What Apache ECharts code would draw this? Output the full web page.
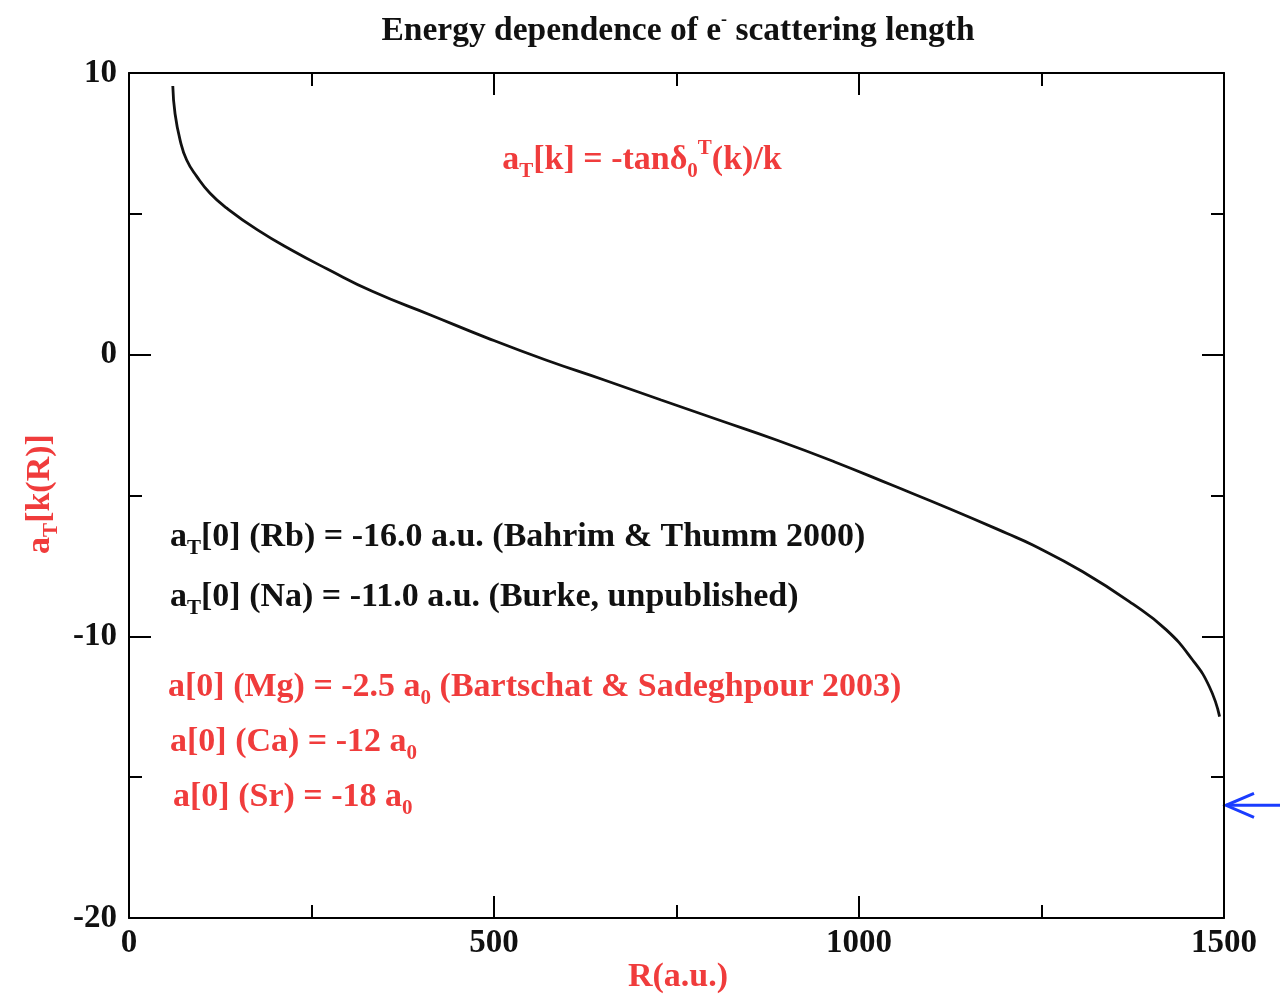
<!DOCTYPE html>
<html><head><meta charset="utf-8">
<script src="https://cdn.jsdelivr.net/npm/echarts@6/dist/echarts.min.js"></script>
<style>html,body{margin:0;padding:0;background:#fff}#c{width:1280px;height:996px}</style>
</head><body><div id="c"></div>
<script>
// Data
const R = [60, 63, 70, 79, 93, 111, 134, 176, 225, 271, 334, 413, 492, 571, 651, 729, 808, 887, 966, 1045, 1124, 1203, 1238, 1306, 1375, 1421, 1457, 1480, 1494];
const aT = [9.54, 8.57, 7.62, 6.91, 6.32, 5.73, 5.20, 4.43, 3.68, 3.05, 2.24, 1.41, 0.58, -0.19, -0.90, -1.61, -2.32, -3.03, -3.80, -4.63, -5.47, -6.35, -6.76, -7.70, -8.85, -9.77, -10.84, -11.79, -12.85];
const xTicks = [0, 500, 1000, 1500];
const yTicks = [-20, -10, 0, 10];
const arrowValue = [1500, -16];

const RED = '#f03c3c';
const BLACK = '#111';
const FONT = '"Liberation Serif","DejaVu Serif",serif';
const FS = 34;
const chart = echarts.init(document.getElementById('c'));

function axisCommon(labels) {
  return {
    axisLine: {show: true, onZero: false, lineStyle: {color: '#000', width: 2}},
    axisTick: {show: true, inside: true, length: 22, lineStyle: {color: '#000', width: 2}},
    minorTick: {show: true, splitNumber: 2, length: 13, lineStyle: {color: '#000', width: 2}},
    splitLine: {show: false},
    axisLabel: labels ? {show: true, fontFamily: FONT, fontWeight: 'bold', fontSize: 33, color: BLACK, formatter: v => String(v)} : {show: false}
  };
}

function richFor(c, fs) {
  const sfs = Math.round(fs * 0.62);
  return {
    b: {fontSize: fs, fontFamily: FONT, fontWeight: 'bold', fill: c, verticalAlign: 'middle', lineHeight: 44},
    s: {fontSize: sfs, fontFamily: FONT, fontWeight: 'bold', fill: c, verticalAlign: 'bottom', lineHeight: 44},
    p: {fontSize: sfs, fontFamily: FONT, fontWeight: 'bold', fill: c, verticalAlign: 'top', lineHeight: 44}
  };
}

chart.setOption({
  animation: false,
  backgroundColor: '#fff',
  grid: {left: 129, right: 56, top: 73, bottom: 78},
  xAxis: [
    Object.assign({type: 'value', min: xTicks[0], max: xTicks[xTicks.length - 1], interval: 500, position: 'bottom'}, axisCommon(true),
      {axisLabel: {show: true, margin: 9, fontFamily: FONT, fontWeight: 'bold', fontSize: 33, color: BLACK, formatter: v => String(v)}}),
    Object.assign({type: 'value', min: xTicks[0], max: xTicks[xTicks.length - 1], interval: 500, position: 'top'}, axisCommon(false))
  ],
  yAxis: [
    Object.assign({type: 'value', min: yTicks[0], max: yTicks[yTicks.length - 1], interval: 10, position: 'left'}, axisCommon(true),
      {axisLabel: {show: true, margin: 12, fontFamily: FONT, fontWeight: 'bold', fontSize: 33, color: BLACK, formatter: v => String(v)}}),
    Object.assign({type: 'value', min: yTicks[0], max: yTicks[yTicks.length - 1], interval: 10, position: 'right'}, axisCommon(false))
  ],
  series: [{
    type: 'line', xAxisIndex: 0, yAxisIndex: 0,
    data: R.map((r, i) => [r, aT[i]]),
    showSymbol: false, smooth: 0.5,
    lineStyle: {color: BLACK, width: 2.8}
  }]
});

const tip = chart.convertToPixel({xAxisIndex: 0, yAxisIndex: 0}, arrowValue);
const tx = tip[0] + 2, ty = tip[1];

chart.setOption({
  graphic: [
    {type: 'text', x: 678, y: 31, style: {
      text: '{b|Energy dependence of e}{p|-}{b| scattering length}', align: 'center', verticalAlign: 'middle',
      rich: {b: {fontSize: 33.5, fontFamily: FONT, fontWeight: 'bold', fill: BLACK, verticalAlign: 'middle', lineHeight: 40},
             p: {fontSize: 18, fontFamily: FONT, fontWeight: 'bold', fill: BLACK, verticalAlign: 'top', lineHeight: 40}}}},
    {type: 'text', x: 678, y: 977, style: {
      text: 'R(a.u.)', align: 'center', verticalAlign: 'middle', fontSize: FS, fontFamily: FONT, fontWeight: 'bold', fill: RED}},
    {type: 'text', x: 40, y: 494, rotation: Math.PI / 2, style: {
      text: '{b|a}{s|T}{b|[k(R)]}', align: 'center', verticalAlign: 'middle', rich: richFor(RED, FS)}},
    {type: 'text', x: 642, y: 160, style: {
      text: '{b|a}{s|T}{b|[k] = -tanδ}{s|0}{p|T}{b|(k)/k}', align: 'center', verticalAlign: 'middle', rich: richFor(RED, FS)}},
    {type: 'text', x: 170, y: 537, style: {
      text: '{b|a}{s|T}{b|[0] (Rb) = -16.0 a.u. (Bahrim & Thumm 2000)}', verticalAlign: 'middle', rich: richFor(BLACK, FS)}},
    {type: 'text', x: 170, y: 597, style: {
      text: '{b|a}{s|T}{b|[0] (Na) = -11.0 a.u. (Burke, unpublished)}', verticalAlign: 'middle', rich: richFor(BLACK, FS)}},
    {type: 'text', x: 168, y: 687, style: {
      text: '{b|a[0] (Mg) = -2.5 a}{s|0}{b| (Bartschat & Sadeghpour 2003)}', verticalAlign: 'middle', rich: richFor(RED, FS)}},
    {type: 'text', x: 170, y: 742, style: {
      text: '{b|a[0] (Ca) = -12 a}{s|0}', verticalAlign: 'middle', rich: richFor(RED, FS)}},
    {type: 'text', x: 173, y: 797, style: {
      text: '{b|a[0] (Sr) = -18 a}{s|0}', verticalAlign: 'middle', rich: richFor(RED, FS)}},
    {type: 'polyline', shape: {points: [[tx + 28, ty - 12], [tx, ty], [tx + 28, ty + 12]]},
      style: {stroke: '#1a3cff', lineWidth: 3, fill: null}},
    {type: 'line', shape: {x1: tx, y1: ty, x2: 1280, y2: ty}, style: {stroke: '#1a3cff', lineWidth: 3}}
  ]
});
</script>
</body></html>
